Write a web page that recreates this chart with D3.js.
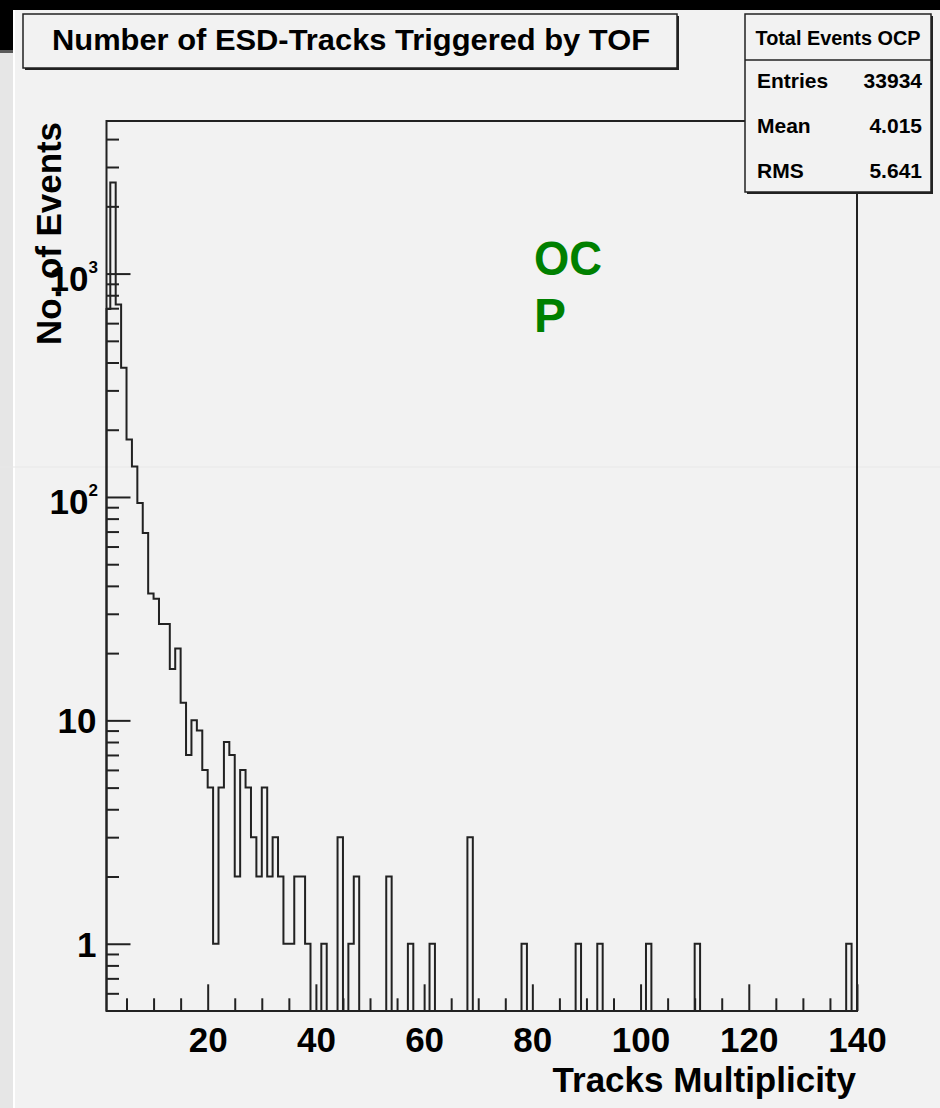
<!DOCTYPE html>
<html>
<head>
<meta charset="utf-8">
<script src="https://cdn.jsdelivr.net/npm/d3@7"></script>
<style>
  body { margin: 0; background: #f2f2f2; }
  svg text { font-family: "Liberation Sans", Arial, Helvetica, sans-serif; font-weight: bold; }
</style>
</head>
<body>
<svg id="chart" width="940" height="1108"></svg>
<script>
// TOF triggered track multiplicity (ROOT canvas screenshot)

// bins with entries (lower edge of a unit-wide bin), empty bins are left out
var multiplicity = [1, 2, 3, 4, 5, 6, 7, 8, 9, 10, 11, 12, 13, 14, 15, 16, 17, 18, 19, 20,
                    21, 22, 23, 24, 25, 26, 27, 28, 29, 30, 31, 32, 33, 34, 35, 36, 37, 38,
                    41, 44, 46, 47, 53, 57, 61, 68, 78, 88, 92, 101, 110, 138];
var events = [694, 2554, 728, 379, 181, 137, 94, 69, 37, 35, 27, 27, 17, 21, 12, 7, 10, 9, 6, 5,
              1, 5, 8, 7, 2, 6, 5, 3, 2, 5, 2, 3, 2, 1, 1, 2, 2, 1,
              1, 3, 1, 2, 2, 1, 1, 3, 1, 1, 1, 1, 1, 1];

var xMajorTicks = [20, 40, 60, 80, 100, 120, 140];
var xMinorTicks = [5, 10, 15, 25, 30, 35, 45, 50, 55, 65, 70, 75, 85, 90, 95, 105, 110, 115, 125, 130, 135];
var yMajorTicks = [1, 10, 100, 1000];
var yLabelBase = ["1", "10", "10", "10"];
var yLabelExp = ["", "", "2", "3"];

var titleText = "Number of ESD-Tracks Triggered by TOF";
var statsTitle = "Total Events OCP";
var statNames = ["Entries", "Mean", "RMS"];
var statValues = ["33934", "4.015", "5.641"];

var svg = d3.select("#chart");

/* screenshot surroundings */
svg.append("rect").attr("x", 0).attr("y", 0).attr("width", 940).attr("height", 1108).attr("fill", "#f2f2f2");
svg.append("rect").attr("x", 0).attr("y", 0).attr("width", 940).attr("height", 10).attr("fill", "#000");
svg.append("rect").attr("x", 0).attr("y", 0).attr("width", 13).attr("height", 50).attr("fill", "#000");
svg.append("rect").attr("x", 0).attr("y", 50).attr("width", 13).attr("height", 3).attr("fill", "#5a5a5a");
svg.append("rect").attr("x", 0).attr("y", 53).attr("width", 13).attr("height", 1055).attr("fill", "#e6e6e6");
svg.append("rect").attr("x", 13).attr("y", 10).attr("width", 2).attr("height", 1098).attr("fill", "#ffffff");
svg.append("rect").attr("x", 0).attr("y", 466.5).attr("width", 940).attr("height", 1).attr("fill", "#e7e7e7");

/* scales */
var x = d3.scaleLinear().domain([1.3, 140]).range([106.5, 857]);
var y = d3.scaleLog().domain([0.5, 4820]).range([1011, 121]);

/* axes: ticks point inside the frame */
var ink = "#222";

svg.append("g")
    .attr("transform", "translate(" + x.range()[0] + ",0)")
    .call(d3.axisLeft(y)
        .tickValues(d3.range(0, 4).flatMap(function(p) {
            return [2, 3, 4, 5, 6, 7, 8, 9].map(function(m) { return m * Math.pow(10, p); });
        }).concat([0.6, 0.7, 0.8, 0.9]).filter(function(v) { return v < y.domain()[1]; }))
        .tickSize(-12.5).tickSizeOuter(0).tickFormat(""))
    .call(function(g) { g.select(".domain").remove(); })
    .selectAll("line").attr("stroke", ink).attr("stroke-width", 2);

svg.append("g")
    .attr("transform", "translate(" + x.range()[0] + ",0)")
    .call(d3.axisLeft(y).tickValues(yMajorTicks).tickSize(-24).tickSizeOuter(0).tickFormat(""))
    .call(function(g) { g.select(".domain").remove(); })
    .selectAll("line").attr("stroke", ink).attr("stroke-width", 2);

svg.append("g")
    .attr("transform", "translate(0," + y.range()[0] + ")")
    .call(d3.axisBottom(x).tickValues(xMinorTicks).tickSize(-12.7).tickSizeOuter(0).tickFormat(""))
    .call(function(g) { g.select(".domain").remove(); })
    .selectAll("line").attr("stroke", ink).attr("stroke-width", 2);

var xAxis = svg.append("g")
    .attr("transform", "translate(0," + y.range()[0] + ")")
    .style("color", "#000")
    .call(d3.axisBottom(x).tickValues(xMajorTicks).tickSize(-26.7).tickSizeOuter(0).tickPadding(16))
    .call(function(g) { g.select(".domain").remove(); });
xAxis.selectAll("line").attr("stroke", ink).attr("stroke-width", 2);
xAxis.selectAll("text")
    .attr("font-size", 35)
    .attr("font-family", "Liberation Sans, Arial, sans-serif")
    .attr("font-weight", "bold");

/* y tick labels with exponents */
var yLab = svg.append("g").selectAll("text")
    .data(yMajorTicks)
    .join("text")
    .attr("x", function(d, i) { return yLabelExp[i] ? 98 : 96.5; })
    .attr("y", function(d, i) { return y(d) + (yLabelExp[i] ? 17 : 13); })
    .attr("text-anchor", "end")
    .attr("font-size", 35)
    .attr("fill", "#000");
yLab.append("tspan").text(function(d, i) { return yLabelBase[i]; });
yLab.filter(function(d, i) { return yLabelExp[i]; })
    .append("tspan")
    .attr("font-size", 17)
    .attr("dy", -18)
    .text(function(d) { return yLabelExp[yMajorTicks.indexOf(d)]; });

/* histogram outline */
var counts = new Map(multiplicity.map(function(m, i) { return [m, events[i]]; }));
var floor = y.domain()[0];
var pts = [[x.domain()[0], floor]];
for (var k = 1; k < 140; k++) {
    pts.push([Math.max(k, x.domain()[0]), counts.get(k) || floor]);
}
pts.push([140, floor]);

var hist = d3.line()
    .x(function(d) { return x(d[0]); })
    .y(function(d) { return y(d[1]); })
    .curve(d3.curveStepAfter);

svg.append("path")
    .datum(pts)
    .attr("d", hist)
    .attr("fill", "none")
    .attr("stroke", ink)
    .attr("stroke-width", 2);

/* frame */
svg.append("rect")
    .attr("x", x.range()[0]).attr("y", y.range()[1])
    .attr("width", x.range()[1] - x.range()[0])
    .attr("height", y.range()[0] - y.range()[1])
    .attr("fill", "none").attr("stroke", ink).attr("stroke-width", 2);

/* axis titles */
svg.append("text")
    .attr("x", 856).attr("y", 1092)
    .attr("text-anchor", "end")
    .attr("font-size", 35)
    .attr("fill", "#000")
    .text("Tracks Multiplicity");

svg.append("text")
    .attr("transform", "translate(61,122) rotate(-90)")
    .attr("text-anchor", "end")
    .attr("font-size", 35)
    .attr("textLength", 223).attr("lengthAdjust", "spacingAndGlyphs")
    .attr("fill", "#000")
    .text("No. of Events");

/* OCP label */
var ocp = svg.append("text").attr("font-size", 48).attr("fill", "#008000");
ocp.append("tspan").attr("x", 534).attr("y", 275).attr("textLength", 68).attr("lengthAdjust", "spacingAndGlyphs").text("OC");
ocp.append("tspan").attr("x", 534).attr("y", 332).text("P");

/* title box */
function paveBox(x0, y0, w, h) {
    svg.append("rect").attr("x", x0 + 2).attr("y", y0 + 2).attr("width", w).attr("height", h).attr("fill", ink);
    svg.append("rect").attr("x", x0).attr("y", y0).attr("width", w).attr("height", h)
        .attr("fill", "#f2f2f2").attr("stroke", ink).attr("stroke-width", 1.5);
}
paveBox(23, 14, 654, 54);
svg.append("text")
    .attr("x", 52).attr("y", 50)
    .attr("font-size", 30)
    .attr("textLength", 598).attr("lengthAdjust", "spacingAndGlyphs")
    .attr("fill", "#000")
    .text(titleText);

/* stats box */
paveBox(745, 14, 186, 178);
svg.append("line").attr("x1", 745).attr("x2", 931).attr("y1", 60).attr("y2", 60)
    .attr("stroke", ink).attr("stroke-width", 1.5);
svg.append("text")
    .attr("x", 838).attr("y", 45)
    .attr("text-anchor", "middle")
    .attr("font-size", 20)
    .attr("textLength", 165).attr("lengthAdjust", "spacingAndGlyphs")
    .attr("fill", "#000")
    .text(statsTitle);

var rows = svg.append("g").selectAll("g")
    .data(statNames)
    .join("g")
    .attr("transform", function(d, i) { return "translate(0," + (88 + i * 45) + ")"; });
rows.append("text").attr("x", 757).attr("font-size", 21).attr("fill", "#000")
    .text(function(d) { return d; });
rows.append("text").attr("x", 922).attr("text-anchor", "end").attr("font-size", 21).attr("fill", "#000")
    .text(function(d, i) { return statValues[i]; });
</script>
</body>
</html>
